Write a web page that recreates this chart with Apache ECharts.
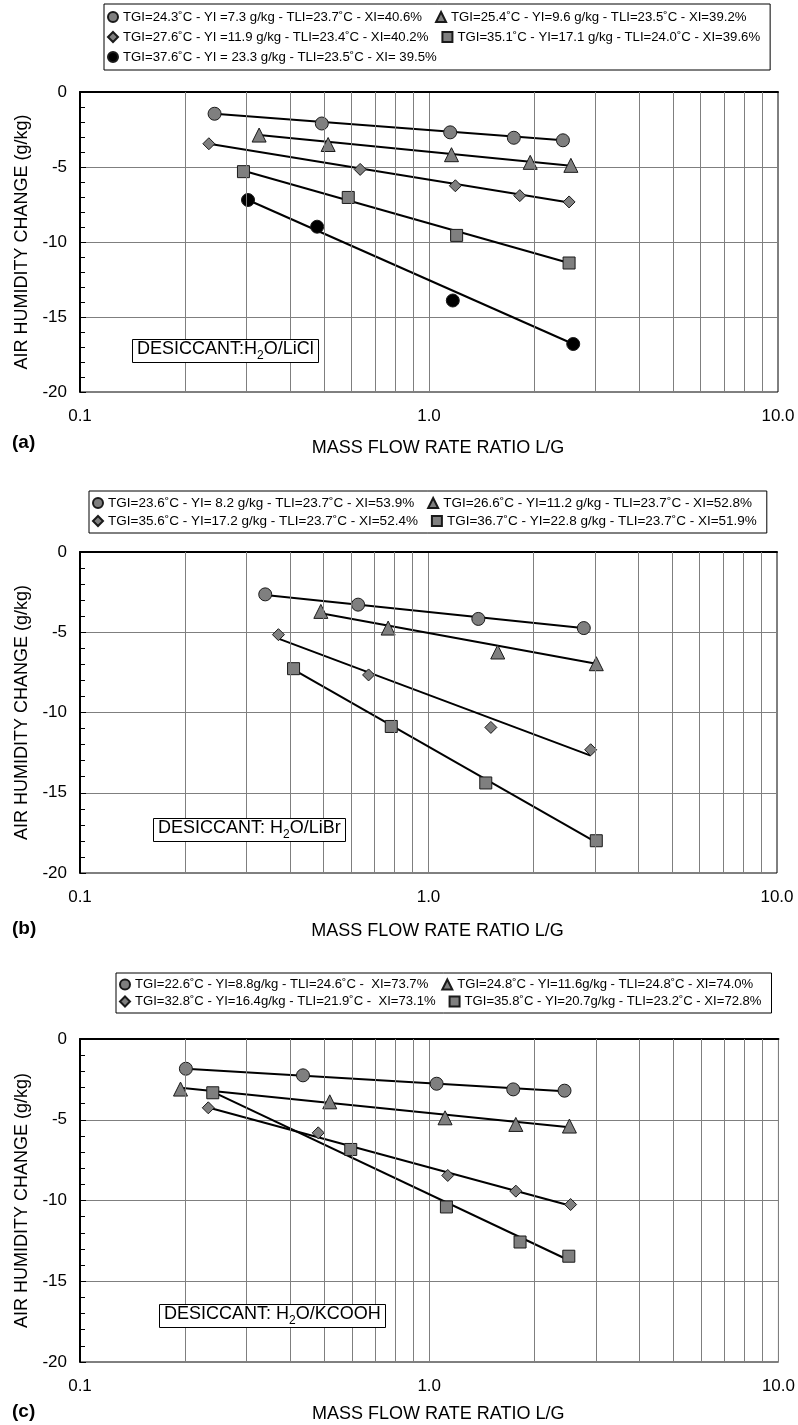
<!DOCTYPE html>
<html><head><meta charset="utf-8">
<script src="https://cdn.jsdelivr.net/npm/echarts@6/dist/echarts.min.js"></script>
<style>html,body{margin:0;padding:0;background:#fff}#c{width:798px;height:1425px}</style>
</head><body><div id="c"></div>
<script>
// ---------- Panel (a): H2O/LiCl ----------
const aNames = [
  'TGI=24.3˚C - YI =7.3 g/kg - TLI=23.7˚C - XI=40.6%',
  'TGI=25.4˚C - YI=9.6 g/kg - TLI=23.5˚C - XI=39.2%',
  'TGI=27.6˚C - YI =11.9 g/kg - TLI=23.4˚C - XI=40.2%',
  'TGI=35.1˚C - YI=17.1 g/kg - TLI=24.0˚C - XI=39.6%',
  'TGI=37.6˚C - YI = 23.3 g/kg - TLI=23.5˚C - XI= 39.5%'
];
const aCircleX = [0.243, 0.493, 1.15, 1.75, 2.42];
const aCircleY = [-1.45, -2.1, -2.69, -3.05, -3.22];
const aTriX = [0.326, 0.514, 1.16, 1.95, 2.55];
const aTriY = [-2.87, -3.5, -4.18, -4.69, -4.89];
const aDiaX = [0.234, 0.635, 1.19, 1.82, 2.52];
const aDiaY = [-3.45, -5.16, -6.25, -6.91, -7.33];
const aSqX = [0.294, 0.587, 1.20, 2.52];
const aSqY = [-5.31, -7.03, -9.56, -11.4];
const aBlkX = [0.303, 0.478, 1.17, 2.59];
const aBlkY = [-7.2, -8.98, -13.9, -16.8];
// trend line end points [x1, x2], [y1, y2]
const aCircleLineX = [0.243, 2.42], aCircleLineY = [-1.45, -3.22];
const aTriLineX = [0.326, 2.55], aTriLineY = [-2.87, -4.91];
const aDiaLineX = [0.234, 2.52], aDiaLineY = [-3.45, -7.36];
const aSqLineX = [0.294, 2.52], aSqLineY = [-5.25, -11.4];
const aBlkLineX = [0.303, 2.59], aBlkLineY = [-7.2, -16.8];

// ---------- Panel (b): H2O/LiBr ----------
const bNames = [
  'TGI=23.6˚C - YI= 8.2 g/kg - TLI=23.7˚C - XI=53.9%',
  'TGI=26.6˚C - YI=11.2 g/kg - TLI=23.7˚C - XI=52.8%',
  'TGI=35.6˚C - YI=17.2 g/kg - TLI=23.7˚C - XI=52.4%',
  'TGI=36.7˚C - YI=22.8 g/kg - TLI=23.7˚C - XI=51.9%'
];
const bCircleX = [0.340, 0.628, 1.39, 2.79];
const bCircleY = [-2.64, -3.28, -4.17, -4.74];
const bTriX = [0.491, 0.766, 1.58, 3.03];
const bTriY = [-3.7, -4.74, -6.23, -6.96];
const bDiaX = [0.371, 0.673, 1.51, 2.92];
const bDiaY = [-5.15, -7.66, -10.93, -12.32];
const bSqX = [0.41, 0.782, 1.46, 3.03];
const bSqY = [-7.27, -10.87, -14.39, -17.99];
const bCircleLineX = [0.340, 2.77], bCircleLineY = [-2.68, -4.74];
const bTriLineX = [0.491, 3.03], bTriLineY = [-3.82, -6.96];
const bDiaLineX = [0.371, 2.92], bDiaLineY = [-5.4, -12.69];
const bSqLineX = [0.41, 3.03], bSqLineY = [-7.33, -18.09];

// ---------- Panel (c): H2O/KCOOH ----------
const cNames = [
  'TGI=22.6˚C - YI=8.8g/kg - TLI=24.6˚C -  XI=73.7%',
  'TGI=24.8˚C - YI=11.6g/kg - TLI=24.8˚C - XI=74.0%',
  'TGI=32.8˚C - YI=16.4g/kg - TLI=21.9˚C -  XI=73.1%',
  'TGI=35.8˚C - YI=20.7g/kg - TLI=23.2˚C - XI=72.8%'
];
const cCircleX = [0.201, 0.435, 1.05, 1.74, 2.44];
const cCircleY = [-1.84, -2.25, -2.77, -3.12, -3.2];
const cTriX = [0.194, 0.519, 1.11, 1.77, 2.52];
const cTriY = [-3.1, -3.89, -4.88, -5.29, -5.39];
const cDiaX = [0.233, 0.481, 1.13, 1.77, 2.54];
const cDiaY = [-4.26, -5.81, -8.45, -9.42, -10.25];
const cSqX = [0.240, 0.596, 1.12, 1.82, 2.51];
const cSqY = [-3.33, -6.84, -10.4, -12.57, -13.45];
const cCircleLineX = [0.201, 2.44], cCircleLineY = [-1.84, -3.24];
const cTriLineX = [0.194, 2.52], cTriLineY = [-3.02, -5.47];
const cDiaLineX = [0.233, 2.54], cDiaLineY = [-4.24, -10.33];
const cSqLineX = [0.240, 2.51], cSqLineY = [-3.27, -13.7];

// axis ticks / grid
const xMin = 0.1, xMax = 10;
const yMin = -20, yMax = 0, yStep = 5;
const gridX = [0.2, 0.3, 0.4, 0.5, 0.6, 0.7, 0.8, 0.9, 2, 3, 4, 5, 6, 7, 8, 9];
const xTitle = 'MASS FLOW RATE RATIO L/G';
const yTitle = 'AIR HUMIDITY CHANGE (g/kg)';
const panelLabels = ['(a)', '(b)', '(c)'];
const desiccants = [['DESICCANT:H', 'O/LiCl'], ['DESICCANT: H', 'O/LiBr'], ['DESICCANT: H', 'O/KCOOH']];

// ---------- build ----------
const FONT = '"Liberation Sans", Arial, Helvetica, sans-serif';
const GRAY = '#7f7f7f';
const zip = (xs, ys) => xs.map((x, i) => [x, ys[i]]);

const panels = [
  { names: aNames, sets: [
    [aCircleX, aCircleY, aCircleLineX, aCircleLineY, 'circle', 13, GRAY],
    [aTriX, aTriY, aTriLineX, aTriLineY, 'triangle', 14, GRAY],
    [aDiaX, aDiaY, aDiaLineX, aDiaLineY, 'diamond', 12, GRAY],
    [aSqX, aSqY, aSqLineX, aSqLineY, 'rect', 12, GRAY],
    [aBlkX, aBlkY, aBlkLineX, aBlkLineY, 'circle', 13, '#000']
  ]},
  { names: bNames, sets: [
    [bCircleX, bCircleY, bCircleLineX, bCircleLineY, 'circle', 13, GRAY],
    [bTriX, bTriY, bTriLineX, bTriLineY, 'triangle', 14, GRAY],
    [bDiaX, bDiaY, bDiaLineX, bDiaLineY, 'diamond', 12, GRAY],
    [bSqX, bSqY, bSqLineX, bSqLineY, 'rect', 12, GRAY]
  ]},
  { names: cNames, sets: [
    [cCircleX, cCircleY, cCircleLineX, cCircleLineY, 'circle', 13, GRAY],
    [cTriX, cTriY, cTriLineX, cTriLineY, 'triangle', 14, GRAY],
    [cDiaX, cDiaY, cDiaLineX, cDiaLineY, 'diamond', 12, GRAY],
    [cSqX, cSqY, cSqLineX, cSqLineY, 'rect', 12, GRAY]
  ]}
];

const layout = [
  { grid: { left: 80, right: 20, top: 92, height: 300 }, legend: { left: 104, top: 4, lh: 16, fs: 13.2 }, xGap: 47, label: 428, box: { left: 132, top: 336 } },
  { grid: { left: 80, right: 21, top: 552, height: 321 }, legend: { left: 89, top: 491, lh: 13, fs: 13.5 }, xGap: 49, label: 914, box: { left: 153, top: 815 } },
  { grid: { left: 80, right: 19, top: 1039, height: 323 }, legend: { left: 116, top: 973, lh: 13, fs: 13.1 }, xGap: 43, label: 1397, box: { left: 159, top: 1301 } }
];

const grids = [], xAxes = [], yAxes = [], series = [], legends = [], titles = [];
panels.forEach((p, i) => {
  const L = layout[i];
  grids.push(Object.assign({ show: true, borderColor: '#000', borderWidth: 1 }, L.grid));
  xAxes.push({
    type: 'log', logBase: 10, min: xMin, max: xMax, gridIndex: i,
    axisLine: { lineStyle: { color: '#000', width: 2 } },
    axisTick: { show: false },
    splitLine: { show: true, lineStyle: { color: GRAY, width: 1 } },
    axisLabel: { margin: 16, fontSize: 17, color: '#000', fontFamily: FONT, formatter: v => Number(v).toFixed(1) },
    name: xTitle, nameLocation: 'middle', nameGap: L.xGap,
    nameTextStyle: { fontSize: 18, color: '#000', fontFamily: FONT, padding: [0, 0, 0, 18] }
  });
  yAxes.push({
    type: 'value', min: yMin, max: yMax, interval: yStep, gridIndex: i,
    axisLine: { show: true, lineStyle: { color: '#000', width: 2 } },
    axisTick: { show: true, inside: true, length: 6, lineStyle: { color: '#000' } },
    minorTick: { show: true, splitNumber: 5, length: 5, lineStyle: { color: '#000' } },
    splitLine: { show: true, lineStyle: { color: GRAY, width: 1 } },
    axisLabel: { margin: 13, fontSize: 17, color: '#000', fontFamily: FONT },
    name: yTitle, nameLocation: 'middle', nameGap: 47, nameRotate: 90,
    nameTextStyle: { fontSize: 18, color: '#000', fontFamily: FONT }
  });
  // minor log grid lines
  series.push({
    type: 'line', xAxisIndex: i, yAxisIndex: i, data: [], silent: true, z: 1,
    markLine: { silent: true, symbol: ['none', 'none'], label: { show: false },
      lineStyle: { color: GRAY, width: 1, type: 'solid' },
      data: gridX.map(v => ({ xAxis: v })) }
  });
  p.sets.forEach((s, k) => {
    const [xs, ys, lx, ly, sym, size, col] = s;
    series.push({
      type: 'line', xAxisIndex: i, yAxisIndex: i, data: zip(lx, ly), symbol: 'none',
      lineStyle: { color: '#000', width: 2 }, silent: true, z: 3
    });
    series.push({
      type: 'scatter', name: p.names[k], xAxisIndex: i, yAxisIndex: i, data: zip(xs, ys),
      symbol: sym, symbolSize: size,
      itemStyle: { color: col, borderColor: '#1a1a1a', borderWidth: 1, opacity: 1 }, z: 4
    });
  });
  legends.push({
    data: p.names, left: L.legend.left, top: L.legend.top, width: 680, orient: 'horizontal',
    itemGap: 4, itemWidth: 10, itemHeight: 10, padding: [5, 1, 5, 3], selectedMode: false,
    borderColor: '#000', borderWidth: 1, backgroundColor: '#fff',
    textStyle: { fontSize: L.legend.fs, lineHeight: L.legend.lh, color: '#000', fontFamily: FONT, padding: [0, 9, 0, 0] }
  });
  titles.push({ text: panelLabels[i], left: 7, top: L.label,
    textStyle: { fontSize: 19, fontWeight: 'bold', color: '#000', fontFamily: FONT } });
  const d = desiccants[i];
  titles.push({
    text: '{n|' + d[0] + '}{s|2}{n|' + d[1] + '}', left: L.box.left, top: L.box.top,
    padding: [1, 5, 1, 5], borderColor: '#000', borderWidth: 1, backgroundColor: '#fff',
    textStyle: { fontWeight: 'normal', fontSize: 18, color: '#000', fontFamily: FONT, rich: {
      n: { fontSize: 18, lineHeight: 25, fontWeight: 'normal', color: '#000', fontFamily: FONT, verticalAlign: 'middle' },
      s: { fontSize: 12, fontWeight: 'normal', color: '#000', fontFamily: FONT, verticalAlign: 'bottom' }
    } }
  });
});

const chart = echarts.init(document.getElementById('c'), null, { renderer: 'canvas' });
chart.setOption({
  animation: false,
  backgroundColor: '#fff',
  textStyle: { fontFamily: FONT },
  title: titles, legend: legends, grid: grids, xAxis: xAxes, yAxis: yAxes, series: series
});
</script></body></html>
